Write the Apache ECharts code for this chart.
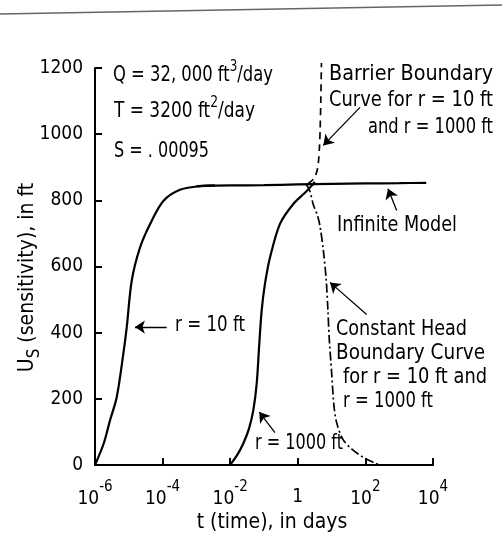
<!DOCTYPE html>
<html><head><meta charset="utf-8">
<script src="https://cdn.jsdelivr.net/npm/echarts@6/dist/echarts.min.js"></script>
<style>html,body{margin:0;padding:0;background:#fff}#c{width:502px;height:541px}</style>
</head><body><div id="c"></div>
<script>
const FONT = "'DejaVu Sans Condensed','Liberation Sans',sans-serif";

// t (days) and U_s (ft)
const r10T = [1e-6, 1.81e-6, 2.78e-6, 4.39e-6, 6.87e-6, 8.66e-6, 1.22e-5, 2.14e-5, 4.24e-5, 1.05e-4, 3.27e-4, 1.28e-3, 3.5e-3];
const r10U = [0, 65, 135, 205, 335, 415, 557, 657, 728, 798, 832, 843, 845];

const infT = [1e-3, 1e-2, 1e-1, 1, 10, 100, 1000, 6300];
const infU = [843, 845, 846, 848, 850, 851, 852, 853];

const r1000T = [9.86e-3, 1.6e-2, 2.44e-2, 3.6e-2, 4.82e-2, 6.08e-2, 7.26e-2, 8.55e-2, 0.107, 0.151, 0.297, 0.736, 1.63, 2.51, 3.16];
const r1000U = [0, 30, 65, 110, 165, 246, 367, 468, 548, 628, 729, 789, 823, 843, 856];

const barrierT = [2.0, 2.63, 3.24, 3.72, 4.07, 4.37, 4.57, 4.79, 5.01];
const barrierU = [850, 860, 872, 890, 915, 960, 1010, 1100, 1215];

const headT = [1.78, 2.24, 2.88, 3.80, 4.57, 5.75, 6.92, 7.76, 8.51, 10, 11.7, 14.1, 21.4, 39.8, 89.1, 200, 251];
const headU = [848, 830, 787, 755, 720, 645, 560, 470, 382, 281, 180, 128, 78, 48, 22, 5, 0];

const xTickExp = [-6, -4, -2, 0, 2, 4];   // decades labelled on the t axis
const yTicks = [0, 200, 400, 600, 800, 1000, 1200];

const pts = (ts, us) => ts.map((t, i) => [Math.log10(t), us[i]]);

// annotation arrows: [tTail, uTail, tTip, uTip]
const ARROWS = [
  [69.2, 1081, 5.68, 966],
  [843, 769, 467, 835],
  [1.32e-4, 417, 1.52e-5, 417],
  [0.211, 98, 0.0726, 160],
  [109, 455, 8.97, 552]
];

// [text, left px, centre px, width px]
const TEXTS = [
  ['Q = 32, 000 ft{s|3}/day', 113, 75, 160],
  ['T = 3200 ft{s|2}/day', 114, 111, 141],
  ['S = . 00095', 114, 151.5, 95],
  ['Barrier Boundary', 329, 74, 164],
  ['Curve for r = 10 ft', 329, 100.5, 164],
  ['and r = 1000 ft', 368, 127, 125],
  ['Infinite Model', 337, 225, 120],
  ['r = 10 ft', 175, 325, 70],
  ['r = 1000 ft', 255, 443, 88],
  ['Constant Head', 336, 329, 131],
  ['Boundary Curve', 336, 353, 149],
  ['for r = 10 ft and', 343, 377, 144],
  ['r = 1000 ft', 343, 401, 90]
];

const ctx = document.createElement('canvas').getContext('2d');
function measure(str, size) { ctx.font = size + 'px ' + FONT; return ctx.measureText(str).width; }
function richWidth(t) {
  let w = 0;
  t.split(/(\{s\|[^}]*\})/).forEach(p => {
    const m = p.match(/^\{s\|([^}]*)\}$/);
    if (m) w += measure(m[1], 16); else if (p) w += measure(p, 22);
  });
  return w;
}

const chart = echarts.init(document.getElementById('c'), null, {renderer: 'canvas'});
const solid = {color: '#000', width: 2.2};
const base = {type: 'line', showSymbol: false, smooth: 0.3, animation: false, silent: true};

chart.setOption({
  animation: false,
  backgroundColor: '#fff',
  grid: {left: 95, right: 69, top: 68, bottom: 76, containLabel: false, outerBoundsMode: 'none'},
  xAxis: {
    type: 'value', min: xTickExp[0], max: xTickExp[xTickExp.length - 1], interval: 2,
    axisLine: {onZero: false, lineStyle: {color: '#000', width: 2}},
    axisTick: {inside: true, length: 7, lineStyle: {color: '#000', width: 2}},
    splitLine: {show: false},
    axisLabel: {
      margin: 15, color: '#000',
      formatter: v => v === 0 ? '{one|1}' : '{b|10}{s|' + v + '}',
      rich: {
        b: {fontFamily: FONT, fontSize: 19, color: '#000'},
        one: {fontFamily: FONT, fontSize: 19, color: '#000', padding: [8, 0, 0, 0]},
        s: {fontFamily: FONT, fontSize: 15, color: '#000', padding: [0, 0, 24, 0]}
      }
    },
    name: 't (time), in days', nameLocation: 'middle', nameGap: 47, nameMoveOverlap: false,
    nameTextStyle: {fontFamily: FONT, fontSize: 21, color: '#000', padding: [0, 0, 0, 16]}
  },
  yAxis: {
    type: 'value', min: yTicks[0], max: yTicks[yTicks.length - 1], interval: 200,
    axisLine: {show: true, onZero: false, lineStyle: {color: '#000', width: 2}},
    axisTick: {show: true, inside: true, length: 7, lineStyle: {color: '#000', width: 2}},
    splitLine: {show: false},
    axisLabel: {margin: 12, color: '#000', fontFamily: FONT, fontSize: 19, formatter: v => String(v)},
    name: '{a|U}{s|S}{a| (sensitivity), in ft}', nameLocation: 'middle', nameGap: 52, nameRotate: 90,
    nameMoveOverlap: false,
    nameTextStyle: {
      padding: [0, 22, 0, 0],
      rich: {
        a: {fontFamily: FONT, fontSize: 21, color: '#000'},
        s: {fontFamily: FONT, fontSize: 17, color: '#000', padding: [14, 0, 0, 0]}
      }
    }
  },
  series: [
    Object.assign({}, base, {name: 'r = 10 ft', data: pts(r10T, r10U), lineStyle: solid}),
    Object.assign({}, base, {name: 'Infinite Model', data: pts(infT, infU), lineStyle: solid,
      markLine: {
        silent: true, animation: false, symbol: ['none', 'arrow'], symbolSize: 10,
        lineStyle: {color: '#000', width: 1.3, type: 'solid'}, label: {show: false},
        data: ARROWS.map(a => [{coord: [Math.log10(a[0]), a[1]]}, {coord: [Math.log10(a[2]), a[3]]}])
      }}),
    Object.assign({}, base, {name: 'r = 1000 ft', data: pts(r1000T, r1000U), lineStyle: solid}),
    Object.assign({}, base, {name: 'Barrier Boundary', clip: false, data: pts(barrierT, barrierU),
      lineStyle: {color: '#000', width: 1.7, type: [7, 5]}}),
    Object.assign({}, base, {name: 'Constant Head Boundary', data: pts(headT, headU),
      lineStyle: {color: '#000', width: 1.7, type: [9, 3, 2, 3]}})
  ],
  graphic: [
    {type: 'line', shape: {x1: 0, y1: 14, x2: 502, y2: 5}, style: {stroke: '#666', lineWidth: 1.5}, silent: true}
  ].concat(TEXTS.map(t => ({
    type: 'text', x: t[1], y: t[2], silent: true, scaleX: t[3] / richWidth(t[0]),
    style: {
      text: t[0], fontFamily: FONT, fontSize: 22, fill: '#000', verticalAlign: 'middle', align: 'left',
      rich: {s: {fontFamily: FONT, fontSize: 16, fill: '#000', padding: [0, 0, 16, 0]}}
    }
  })))
});
</script>
</body></html>
